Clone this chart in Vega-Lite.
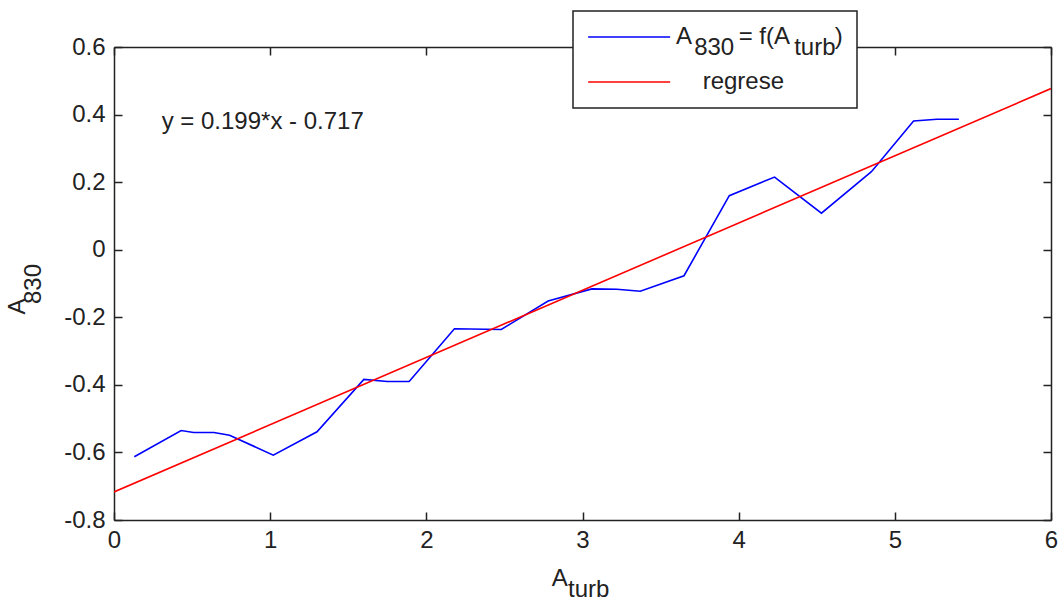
{
  "$schema": "https://vega.github.io/schema/vega-lite/v6.json",
  "autosize": {"type": "none"},
  "padding": {"left": 114, "top": 47, "right": 10, "bottom": 83},
  "width": 937,
  "height": 473,
  "background": "white",
  "config": {
    "font": "Liberation Sans",
    "view": {"stroke": null},
    "axis": {
      "grid": false,
      "domainColor": "#222222",
      "domainWidth": 1.5,
      "tickColor": "#222222",
      "tickWidth": 1.5,
      "tickSize": -8,
      "labelFlush": false,
      "labelFont": "Liberation Sans",
      "labelFontSize": 24,
      "labelColor": "#222222",
      "titleFont": "Liberation Sans",
      "titleFontSize": 24,
      "titleFontWeight": "normal",
      "titleColor": "#222222",
      "titleLineHeight": 11
    },
    "style": {"guide-label": {"lineHeight": 11}},
    "legend": {
      "orient": "none",
      "legendX": 459,
      "legendY": -36,
      "strokeColor": "#222222",
      "strokeWidth": 1.5,
      "fillColor": "white",
      "padding": 14,
      "symbolType": "M-2.65,0H17.35",
      "symbolSize": 67.24,
      "symbolStrokeWidth": 1.6,
      "labelFont": "Liberation Sans",
      "labelFontSize": 24,
      "labelColor": "#222222",
      "labelOffset": 65,
      "labelLimit": 400,
      "rowPadding": 10
    }
  },
  "datasets": {
    "measured": [
      {"Aturb": 0.13, "A830": -0.613, "series": "A830 = f(Aturb)"},
      {"Aturb": 0.43, "A830": -0.535, "series": "A830 = f(Aturb)"},
      {"Aturb": 0.51, "A830": -0.541, "series": "A830 = f(Aturb)"},
      {"Aturb": 0.64, "A830": -0.541, "series": "A830 = f(Aturb)"},
      {"Aturb": 0.74, "A830": -0.549, "series": "A830 = f(Aturb)"},
      {"Aturb": 1.02, "A830": -0.608, "series": "A830 = f(Aturb)"},
      {"Aturb": 1.30, "A830": -0.539, "series": "A830 = f(Aturb)"},
      {"Aturb": 1.60, "A830": -0.384, "series": "A830 = f(Aturb)"},
      {"Aturb": 1.75, "A830": -0.390, "series": "A830 = f(Aturb)"},
      {"Aturb": 1.89, "A830": -0.390, "series": "A830 = f(Aturb)"},
      {"Aturb": 2.18, "A830": -0.234, "series": "A830 = f(Aturb)"},
      {"Aturb": 2.48, "A830": -0.236, "series": "A830 = f(Aturb)"},
      {"Aturb": 2.78, "A830": -0.152, "series": "A830 = f(Aturb)"},
      {"Aturb": 3.06, "A830": -0.116, "series": "A830 = f(Aturb)"},
      {"Aturb": 3.22, "A830": -0.117, "series": "A830 = f(Aturb)"},
      {"Aturb": 3.37, "A830": -0.123, "series": "A830 = f(Aturb)"},
      {"Aturb": 3.65, "A830": -0.077, "series": "A830 = f(Aturb)"},
      {"Aturb": 3.94, "A830": 0.160, "series": "A830 = f(Aturb)"},
      {"Aturb": 4.23, "A830": 0.215, "series": "A830 = f(Aturb)"},
      {"Aturb": 4.53, "A830": 0.108, "series": "A830 = f(Aturb)"},
      {"Aturb": 4.85, "A830": 0.231, "series": "A830 = f(Aturb)"},
      {"Aturb": 5.12, "A830": 0.381, "series": "A830 = f(Aturb)"},
      {"Aturb": 5.27, "A830": 0.386, "series": "A830 = f(Aturb)"},
      {"Aturb": 5.41, "A830": 0.386, "series": "A830 = f(Aturb)"}
    ],
    "regression": [
      {"Aturb": 0, "A830": -0.717, "series": "regrese"},
      {"Aturb": 6, "A830": 0.477, "series": "regrese"}
    ],
    "note": [
      {"text": "y = 0.199*x - 0.717"}
    ]
  },
  "resolve": {"axis": {"x": "independent", "y": "independent"}},
  "layer": [
    {
      "data": {"name": "measured"},
      "mark": {"type": "line", "strokeWidth": 1.6, "clip": true},
      "encoding": {
        "x": {
          "field": "Aturb", "type": "quantitative",
          "scale": {"domain": [0, 6], "nice": false, "zero": false},
          "axis": {
            "orient": "bottom",
            "values": [0, 1, 2, 3, 4, 5, 6],
            "labelPadding": 16,
            "title": ["A\u00a0\u00a0\u00a0\u00a0\u00a0\u00a0\u00a0\u200b", "\u200b\u00a0\u2009turb"],
            "titlePadding": 14
          }
        },
        "y": {
          "field": "A830", "type": "quantitative",
          "scale": {"domain": [-0.8, 0.6], "nice": false, "zero": false},
          "axis": {
            "orient": "left",
            "values": [-0.8, -0.6, -0.4, -0.2, 0, 0.2, 0.4, 0.6],
            "labelPadding": 17,
            "labelExpr": "datum.value == 0 ? '0' : replace(datum.label, '\u2212', '-')",
            "title": ["A\u00a0\u00a0\u00a0\u00a0\u00a0\u00a0\u2009\u200b", "830"],
            "titleLineHeight": 16,
            "titlePadding": 18
          }
        },
        "color": {
          "field": "series", "type": "nominal",
          "scale": {"domain": ["A830 = f(Aturb)", "regrese"], "range": ["#0000ff", "#ff0000"]},
          "legend": {
            "title": null,
            "labelExpr": "datum.label == 'regrese' ? '\u200b\u00a0\u00a0\u00a0\u00a0regrese' : ['A\u00a0\u00a0\u00a0\u00a0\u00a0\u00a0 = f(A\u00a0\u00a0\u00a0\u00a0\u00a0\u00a0\u2009)', '\u200b\u00a0\u00a0\u2009830\u00a0\u00a0\u00a0\u00a0\u00a0\u00a0\u00a0\u00a0\u00a0turb']"
          }
        }
      }
    },
    {
      "data": {"name": "regression"},
      "mark": {"type": "line", "strokeWidth": 1.6, "clip": true},
      "encoding": {
        "x": {
          "field": "Aturb", "type": "quantitative",
          "axis": {"orient": "top", "values": [0, 1, 2, 3, 4, 5, 6], "labels": false, "title": null}
        },
        "y": {
          "field": "A830", "type": "quantitative",
          "axis": {"orient": "right", "values": [-0.8, -0.6, -0.4, -0.2, 0, 0.2, 0.4, 0.6], "labels": false, "title": null}
        },
        "color": {"field": "series", "type": "nominal"}
      }
    },
    {
      "data": {"name": "note"},
      "mark": {"type": "text", "align": "left", "baseline": "middle", "font": "Liberation Sans", "fontSize": 24, "color": "#222222"},
      "encoding": {
        "x": {"datum": 0.305, "axis": null},
        "y": {"datum": 0.378, "axis": null},
        "text": {"field": "text"}
      }
    }
  ]
}
